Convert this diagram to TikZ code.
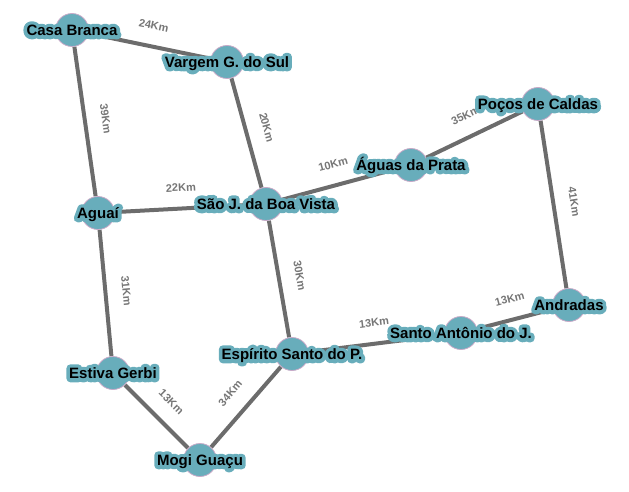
\documentclass[tikz,border=0pt]{standalone}
\usepackage{fontspec}
\setmainfont{Liberation Sans}
\newfontfamily\halofont[FakeBold=50]{Liberation Sans Bold}
\definecolor{nodefill}{RGB}{104,173,187}
\definecolor{nodeline}{RGB}{200,170,200}
\definecolor{edgecol}{RGB}{108,108,108}
\definecolor{elabel}{RGB}{118,118,118}
\newcommand\halotext[1]{\special{pdf:literal direct 1 j 1 J}\rlap{\halofont\fontsize{15}{18}\selectfont\color{nodefill}#1}#1}
\pgfdeclarelayer{bg}
\pgfdeclarelayer{fg}
\pgfsetlayers{bg,main,fg}
\tikzset{
  city/.style={circle, fill=nodefill, draw=nodeline, line width=0.8pt, minimum size=33pt, inner sep=0pt},
  citylabel/.style={font=\bfseries\fontsize{15}{18}\selectfont, inner sep=0pt, anchor=base, yshift=-5.5pt},
  road/.style={draw=edgecol, line width=4pt},
  km/.style={font=\bfseries\fontsize{11}{13}\selectfont, text=elabel, midway, sloped, above=15pt, inner sep=0pt}
}
\begin{document}
\begin{tikzpicture}[x=1pt,y=-1pt]
\useasboundingbox (0,0) rectangle (629,492);
% cities
\node[city] (cb) at (72,30) {};
\node[city] (vg) at (227,62) {};
\node[city] (sj) at (266,204) {};
\node[city] (ap) at (411,165) {};
\node[city] (pc) at (538,104) {};
\node[city] (ag) at (98,213) {};
\node[city] (an) at (569,305) {};
\node[city] (sa) at (461,333) {};
\node[city] (es) at (292,354) {};
\node[city] (eg) at (113,373) {};
\node[city] (mg) at (200,460) {};
% roads
\begin{pgfonlayer}{bg}
\draw[road] (cb) -- node[km] (l1) {24Km} (vg);
\draw[road] (cb) -- node[km] (l2) {39Km} (ag);
\draw[road] (vg) -- node[km] (l3) {20Km} (sj);
\draw[road] (ag) -- node[km] (l4) {22Km} (sj);
\draw[road] (sj) -- node[km] (l5) {10Km} (ap);
\draw[road] (ap) -- node[km] (l6) {35Km} (pc);
\draw[road] (pc) -- node[km] (l7) {41Km} (an);
\draw[road] (sj) -- node[km] (l8) {30Km} (es);
\draw[road] (es) -- node[km] (l9) {13Km} (sa);
\draw[road] (sa) -- node[km] (l10) {13Km} (an);
\draw[road] (ag) -- node[km] (l11) {31Km} (eg);
\draw[road] (eg) -- node[km] (l12) {13Km} (mg);
\draw[road] (mg) -- node[km] (l13) {34Km} (es);
\end{pgfonlayer}
% labels
\begin{pgfonlayer}{fg}
\node[citylabel] (cb-t) at (cb) {\halotext{Casa Branca}};
\node[citylabel] (vg-t) at (vg) {\halotext{Vargem G. do Sul}};
\node[citylabel] (sj-t) at (sj) {\halotext{São J. da Boa Vista}};
\node[citylabel] (ap-t) at (ap) {\halotext{Águas da Prata}};
\node[citylabel] (pc-t) at (pc) {\halotext{Poços de Caldas}};
\node[citylabel] (ag-t) at (ag) {\halotext{Aguaí}};
\node[citylabel] (an-t) at (an) {\halotext{Andradas}};
\node[citylabel] (sa-t) at (sa) {\halotext{Santo Antônio do J.}};
\node[citylabel] (es-t) at (es) {\halotext{Espírito Santo do P.}};
\node[citylabel] (eg-t) at (eg) {\halotext{Estiva Gerbi}};
\node[citylabel] (mg-t) at (mg) {\halotext{Mogi Guaçu}};
\end{pgfonlayer}
\end{tikzpicture}
\end{document}
